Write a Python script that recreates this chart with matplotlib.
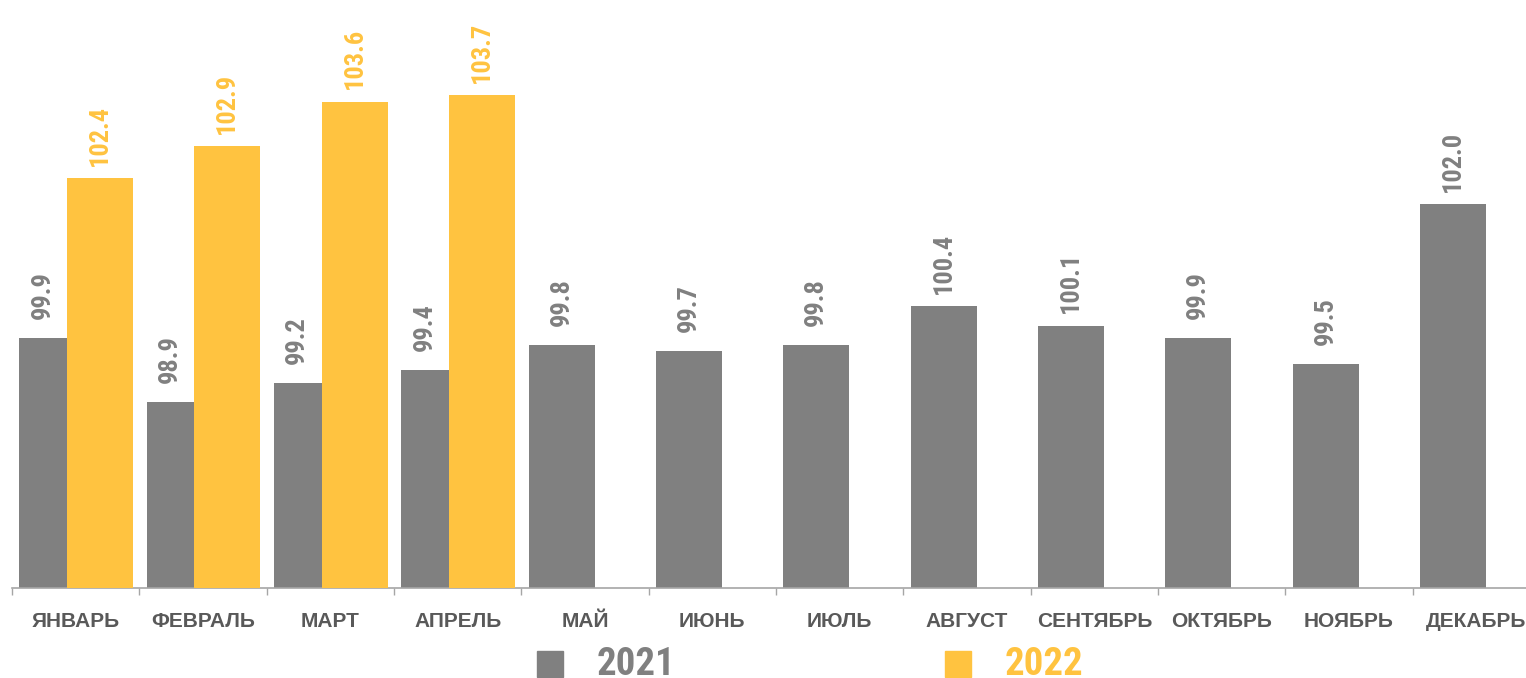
import matplotlib
matplotlib.use('Agg')
import matplotlib.pyplot as plt
from matplotlib.patches import Rectangle
import numpy as np

# данные
months = ['ЯНВАРЬ', 'ФЕВРАЛЬ', 'МАРТ', 'АПРЕЛЬ', 'МАЙ', 'ИЮНЬ',
          'ИЮЛЬ', 'АВГУСТ', 'СЕНТЯБРЬ', 'ОКТЯБРЬ', 'НОЯБРЬ', 'ДЕКАБРЬ']
v2021 = [99.9, 98.9, 99.2, 99.4, 99.8, 99.7, 99.8, 100.4, 100.1, 99.9, 99.5, 102.0]
v2022 = [102.4, 102.9, 103.6, 103.7]

GRAY = '#808080'
YELLOW = '#FFC340'
TEXT = '#595959'
LINE = '#A6A6A6'
NARROW = ['Roboto Condensed', 'Liberation Sans']

plt.rcParams['font.family'] = ['Liberation Sans', 'DejaVu Sans']

fig = plt.figure(figsize=(15.26, 6.78), dpi=100)
W, H = 1526, 678
# ось: слева 12px, шаг группы ~127.4px, основание на 588px
ax = fig.add_axes([12 / W, 90 / H, 1528 / W, 588 / H])

x = np.arange(len(months))
bw = 0.518
x21 = x - 0.183
x22 = x[:len(v2022)] + 0.191
ymin = 96

ax.bar(x21, np.array(v2021) - ymin, bw, bottom=ymin, color=GRAY, zorder=2)
ax.bar(x22, np.array(v2022) - ymin, bw, bottom=ymin, color=YELLOW, zorder=3)

# подписи значений
lbl = dict(rotation=90, ha='center', va='center', fontsize=19, fontweight='bold',
           family=NARROW, textcoords='offset points')
for i, v in enumerate(v2021):
    xl = x[i] - 0.26 if i < len(v2022) else x21[i]
    ax.annotate(f'{v:.1f}', (xl, v), xytext=(0, 31), color=GRAY, **lbl)
for i, v in enumerate(v2022):
    ax.annotate(f'{v:.1f}', (x22[i], v), xytext=(0, 31), color=YELLOW, **lbl)

ax.set_xlim(-0.5, len(months) - 0.5)
ax.set_ylim(ymin, ymin + 588 / 64)

for s in ['top', 'right', 'left']:
    ax.spines[s].set_visible(False)
ax.spines['bottom'].set_color(LINE)
ax.spines['bottom'].set_linewidth(1.2)
ax.set_yticks([])

ax.set_xticks(np.arange(-0.5, len(months), 1))
ax.set_xticklabels([])
ax.tick_params(axis='x', which='major', length=5, color=LINE, width=1)
ax.set_xticks(x, minor=True)
ax.set_xticklabels(months, minor=True, fontsize=15, fontweight='bold', color=TEXT)
ax.tick_params(axis='x', which='minor', length=0, pad=17)

# легенда
fig.add_artist(Rectangle((537 / W, 1 / H), 26 / W, 26 / H, transform=fig.transFigure,
                         color=GRAY))
fig.add_artist(Rectangle((945 / W, 1 / H), 26 / W, 26 / H, transform=fig.transFigure,
                         color=YELLOW))
fig.text(597 / W, 3 / H, '2021', fontsize=28, fontweight='bold', color=GRAY,
         family=NARROW, va='baseline')
fig.text(1005 / W, 3 / H, '2022', fontsize=28, fontweight='bold', color=YELLOW,
         family=NARROW, va='baseline')

fig.savefig('out.png', dpi=100)
